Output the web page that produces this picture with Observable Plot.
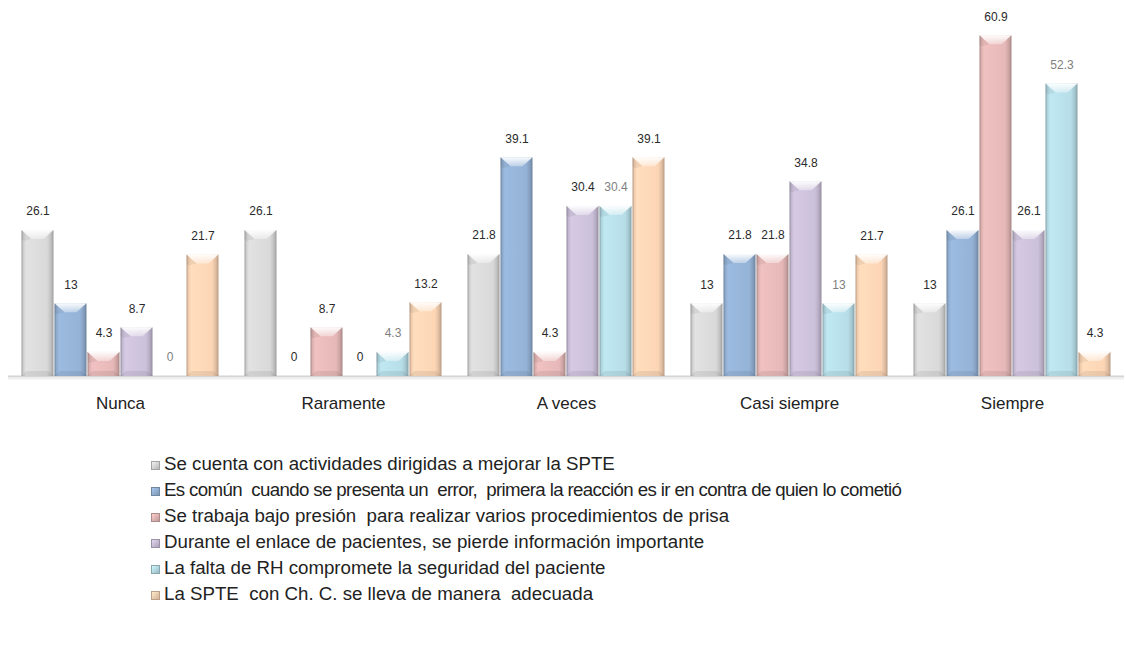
<!DOCTYPE html>
<html>
<head>
<meta charset="utf-8">
<script src="https://cdn.jsdelivr.net/npm/d3@7"></script>
<script src="https://cdn.jsdelivr.net/npm/@observablehq/plot@0.6"></script>
<style>
  body { margin: 0; background: #fff; font-family: "Liberation Sans", Arial, sans-serif; }
  #legend { padding: 31px 0 0 151px; font-size: 18.7px; color: #222; }
  .item { height: 26px; line-height: 26px; white-space: pre; }
  .item.tight { letter-spacing: -0.63px; }
  .sw { display: inline-block; width: 9px; height: 9px; margin-right: 4px; vertical-align: 0px; box-sizing: border-box; }
</style>
</head>
<body>
<div id="chart"></div>
<div id="legend"></div>
<script>
// Response categories (x groups)
const categories = ["Nunca", "Raramente", "A veces", "Casi siempre", "Siempre"];

// Survey statements (one series each)
const series = [
  "Se cuenta con actividades dirigidas a mejorar la SPTE",
  "Es común  cuando se presenta un  error,  primera la reacción es ir en contra de quien lo cometió",
  "Se trabaja bajo presión  para realizar varios procedimientos de prisa",
  "Durante el enlace de pacientes, se pierde información importante",
  "La falta de RH compromete la seguridad del paciente",
  "La SPTE  con Ch. C. se lleva de manera  adecuada"
];

// Percentages per category, in the order of `categories`
const sActividades = [26.1, 26.1, 21.8, 13, 13];
const sError       = [13, 0, 39.1, 21.8, 26.1];
const sPresion     = [4.3, 8.7, 4.3, 21.8, 60.9];
const sEnlace      = [8.7, 0, 30.4, 34.8, 26.1];
const sRH          = [0, 4.3, 30.4, 13, 52.3];
const sChC         = [21.7, 13.2, 39.1, 21.7, 4.3];

const seriesValues = [sActividades, sError, sPresion, sEnlace, sRH, sChC];

// Series colours
const colors = ["#d9d9d9", "#95b3d7", "#e6b9b8", "#ccc1da", "#b7dee8", "#fcd5b5"];

const rows = series.flatMap((s, i) =>
  categories.map((c, j) => ({category: c, series: s, value: seriesValues[i][j]}))
);

const fmt = d => String(d.value);
const darkLabels = rows.filter(d => d.series !== series[4]);
const greyLabels = rows.filter(d => d.series === series[4]);

const chart = Plot.plot({
  width: 1126,
  height: 420,
  marginTop: 18,
  marginBottom: 44,
  marginLeft: 7,
  marginRight: 0,
  style: {fontFamily: "'Liberation Sans', Arial, sans-serif", background: "#fff", overflow: "visible"},
  fx: {domain: categories, paddingInner: 0.11, paddingOuter: 0.055, label: null},
  x: {domain: series, padding: 0, axis: null},
  y: {domain: [0, 64], axis: null},
  color: {domain: series, range: series.map((_, i) => `url(#barfill${i})`)},
  marks: [
    Plot.axisFx({anchor: "bottom", tickSize: 0, tickPadding: 20, fontSize: 17, fill: "#222", label: null}),
    Plot.ruleY([0], {stroke: "#d4d4d4", strokeWidth: 2, insetLeft: -13, insetRight: -13}),
    Plot.ruleY([0], {stroke: "#efefef", strokeWidth: 2, dy: 2, insetLeft: -13, insetRight: -13}),
    Plot.barY(rows, {fx: "category", x: "series", y: "value", fill: "series", insetLeft: 0.5, insetRight: 0.5}),
    Plot.text(darkLabels, {fx: "category", x: "series", y: "value", text: fmt, dy: -19, fill: "#2a2a2a", fontSize: 12}),
    Plot.text(greyLabels, {fx: "category", x: "series", y: "value", text: fmt, dy: -19, fill: "#7f7f7f", fontSize: 12})
  ]
});

// Gradient fills giving the bars their bevelled look
const svg = d3.select(chart);
const defs = svg.insert("defs", ":first-child");
colors.forEach((c, i) => {
  const base = d3.color(c);
  const g = defs.append("linearGradient").attr("id", `barfill${i}`)
    .attr("x1", 0).attr("x2", 1).attr("y1", 0).attr("y2", 0);
  [[0, base.darker(0.9)], [0.06, base.darker(0.15)], [0.14, base.brighter(0.12)],
   [0.8, base], [0.92, base.darker(0.35)], [1, base.darker(0.9)]]
    .forEach(([o, col]) => g.append("stop").attr("offset", o).attr("stop-color", col.formatHex()));
});
const topGrad = defs.append("linearGradient").attr("id", "bevelTop")
  .attr("x1", 0).attr("x2", 0).attr("y1", 0).attr("y2", 1);
topGrad.append("stop").attr("offset", 0).attr("stop-color", "#fff").attr("stop-opacity", 0.95);
topGrad.append("stop").attr("offset", 1).attr("stop-color", "#fff").attr("stop-opacity", 0.35);

svg.selectAll('g[aria-label="bar"] rect').each(function() {
  const r = d3.select(this);
  const x = +r.attr("x"), y = +r.attr("y"), w = +r.attr("width"), h = +r.attr("height");
  if (!(h > 1)) return;
  const parent = d3.select(this.parentNode);
  const bx = Math.min(10, w / 2 - 2), by = Math.min(9, h / 2);
  parent.append("polygon")
    .attr("points", [[x, y], [x + w, y], [x + w - bx, y + by], [x + bx, y + by]].join(" "))
    .attr("fill", "url(#bevelTop)");
  parent.append("polygon")
    .attr("points", [[x, y], [x + bx, y + by], [x + 2, y + by + 2], [x, y + by]].join(" "))
    .attr("fill", "#000").attr("fill-opacity", 0.06);
  const bb = Math.min(5, h / 4);
  parent.append("polygon")
    .attr("points", [[x, y + h], [x + w, y + h], [x + w - bb, y + h - bb], [x + bb, y + h - bb]].join(" "))
    .attr("fill", "#000").attr("fill-opacity", 0.07);
});

document.getElementById("chart").appendChild(chart);

// Legend, one statement per line
const legend = d3.select("#legend");
series.forEach((s, i) => {
  const base = d3.color(colors[i]);
  const item = legend.append("div").attr("class", i === 1 ? "item tight" : "item");
  item.append("span").attr("class", "sw")
    .style("background", `linear-gradient(135deg, ${base.brighter(0.3).formatHex()}, ${base.darker(0.5).formatHex()})`)
    .style("border", `1px solid ${base.darker(0.8).formatHex()}`);
  item.append("span").text(s);
});
</script>
</body>
</html>
